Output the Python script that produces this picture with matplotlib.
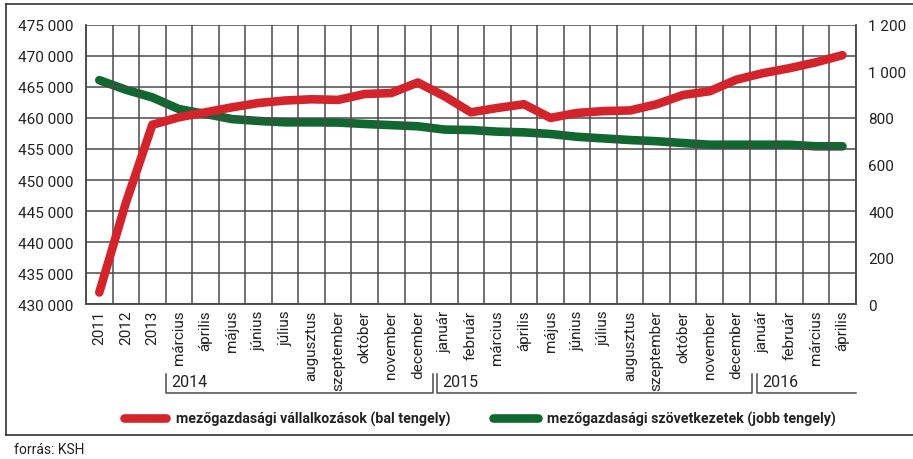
import matplotlib.pyplot as plt
import numpy as np
from matplotlib.lines import Line2D
from matplotlib.transforms import blended_transform_factory

plt.rcParams["font.family"] = ["Roboto", "DejaVu Sans"]

# categories (x axis)
categories = [
    "2011", "2012", "2013",
    "március", "április", "május", "június", "július", "augusztus",
    "szeptember", "október", "november", "december",
    "január", "február", "március", "április", "május", "június", "július",
    "augusztus", "szeptember", "október", "november", "december",
    "január", "február", "március", "április",
]

# mezőgazdasági vállalkozások (left axis)
vallalkozasok = [
    431900, 446300, 458900,
    460100, 460900, 461700, 462400, 462800, 463000,
    462900, 463850, 464000, 465700,
    463500, 460900, 461600, 462200, 460000, 460800, 461100,
    461200, 462200, 463700, 464300, 466150,
    467200, 468000, 468950, 470100,
]

# mezőgazdasági szövetkezetek (right axis)
szovetkezetek = [
    962, 921, 888,
    838, 817, 795, 787, 781, 781,
    780, 774, 769, 764,
    750, 748, 741, 738, 731, 719, 712,
    705, 700, 692, 685, 685,
    685, 685, 678, 678,
]

years = [("2014", 3.0, 13.06, True), ("2015", 13.21, 25.08, True), ("2016", 25.27, 29.0, False)]

left_ticks = np.arange(430000, 475001, 5000)
right_ticks = np.arange(0, 1201, 200)

RED = "#d3242c"
GREEN = "#10672f"
GRID = "#4a4a4a"
TEXT = "#222222"


def fmt(v):
    return f"{v:,}".replace(",", " ")


fig = plt.figure(figsize=(9.13, 4.60), dpi=100)
ax = fig.add_axes([0.0942, 0.3363, 0.8431, 0.6078])
ax2 = ax.twinx()

x = np.arange(len(categories)) + 0.5
ax.set_xlim(0, len(categories))
ax.set_ylim(430000, 475000)
ax2.set_ylim(0, 1200)

# boundaries carry the grid, centres carry the labels
ax.set_xticks(np.arange(len(categories) + 1))
ax.set_xticklabels([])
ax.set_xticks(x, minor=True)
ax.set_xticklabels(categories, minor=True, rotation=90, fontsize=11, color=TEXT, va="top")
ax.tick_params(axis="x", which="both", length=0, pad=4)
ax.grid(axis="x", which="major", color=GRID, lw=1.1)
ax.grid(axis="y", color=GRID, lw=1.1)
ax.set_axisbelow(True)

ax.set_yticks(left_ticks)
ax.set_yticklabels([fmt(v) for v in left_ticks], fontsize=11, color=TEXT)
ax.tick_params(axis="y", length=0, pad=9)
ax2.set_yticks(right_ticks)
ax2.set_yticklabels([fmt(v) for v in right_ticks], fontsize=11, color=TEXT)
ax2.tick_params(axis="y", length=0, pad=9)

for a in (ax, ax2):
    for s in a.spines.values():
        s.set_color(GRID)
        s.set_linewidth(1.1)
    a.spines["top"].set_visible(False)

ax2.plot(x, szovetkezetek, color=GREEN, lw=6.2, solid_capstyle="round", solid_joinstyle="round", zorder=2)
ax.plot(x, vallalkozasok, color=RED, lw=6.2, solid_capstyle="round", solid_joinstyle="round", zorder=4)
ax.set_zorder(ax2.get_zorder() + 1)
ax.patch.set_visible(False)

# year brackets under the month labels
tr = blended_transform_factory(ax.transData, fig.transFigure)
y_top, y_bot, y_txt = 0.1848, 0.1435, 0.1674
for label, x0, x1, closed in years:
    xs = [x0, x0, x1] + ([x1] if closed else [])
    ys = [y_top, y_bot, y_bot] + ([y_top] if closed else [])
    fig.add_artist(Line2D(xs, ys, transform=tr, color=GRID, lw=1.1))
    fig.text(x0 + 0.22, y_txt, label, transform=tr, fontsize=11.5, color=TEXT, va="center", ha="left")

# legend
fig.add_artist(Line2D([0.1359, 0.1815], [0.089, 0.089], transform=fig.transFigure,
                      color=RED, lw=6.2, solid_capstyle="round"))
fig.text(0.1928, 0.089, "mezőgazdasági vállalkozások (bal tengely)", fontsize=10.2,
         fontweight="bold", color=TEXT, va="center", ha="left")
fig.add_artist(Line2D([0.5405, 0.5890], [0.089, 0.089], transform=fig.transFigure,
                      color=GREEN, lw=6.2, solid_capstyle="round"))
fig.text(0.599, 0.089, "mezőgazdasági szövetkezetek (jobb tengely)", fontsize=10.2,
         fontweight="bold", color=TEXT, va="center", ha="left")

# frame
frame = dict(transform=fig.transFigure, color="#333333", lw=1.2)
fig.add_artist(Line2D([0.0066, 1.0], [0.989, 0.989], **frame))
fig.add_artist(Line2D([0.0066, 0.0066], [0.989, 0.052], **frame))
fig.add_artist(Line2D([0.0066, 1.0], [0.052, 0.052], **frame))

fig.text(0.0153, 0.022, "forrás: KSH", fontsize=10, color=TEXT, va="center", ha="left")

fig.savefig("out.png", dpi=100)
